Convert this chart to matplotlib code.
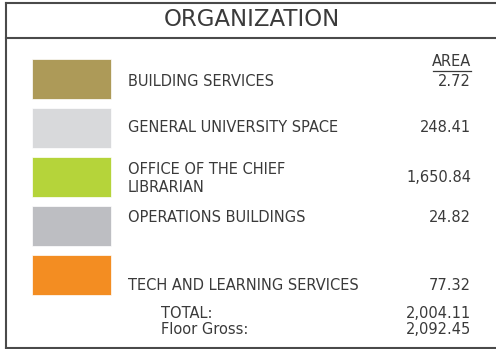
import matplotlib.pyplot as plt

# legend data
categories = ['BUILDING SERVICES', 'GENERAL UNIVERSITY SPACE',
              'OFFICE OF THE CHIEF\nLIBRARIAN', 'OPERATIONS BUILDINGS',
              'TECH AND LEARNING SERVICES']
areas = ['2.72', '248.41', '1,650.84', '24.82', '77.32']
colors = ['#AD9A58', '#D8D9DB', '#B5D43A', '#BDBEC2', '#F38D22']
total_labels = ['TOTAL:', 'Floor Gross:']
total_values = ['2,004.11', '2,092.45']

plt.rcParams['font.family'] = ['DejaVu Sans']
txt = '#3a3a3a'
edge = '#4a4a4a'
fs = 10.5

fig = plt.figure(figsize=(4.96, 3.49), dpi=100)
ax = fig.add_axes([0, 0, 1, 1])
ax.set_xlim(0, 496)
ax.set_ylim(349, 0)
ax.axis('off')

# frame
ax.plot([6, 6], [3, 348], color=edge, lw=1.5)
ax.plot([6, 496], [3, 3], color=edge, lw=1.5)
ax.plot([6, 496], [37.5, 37.5], color=edge, lw=1.5)
ax.plot([6, 496], [348, 348], color=edge, lw=1.5)

ax.text(252, 20, 'ORGANIZATION', ha='center', va='center', fontsize=16.5, color=txt)

# swatches
rows = [79, 128, 177, 226, 275]
text_rows = [81, 128, 178, 217, 285]
ax.barh(rows, 79, left=32, height=40, color=colors, edgecolor='white', linewidth=0.5)

for y, name, val in zip(text_rows, categories, areas):
    ax.text(128, y, name, ha='left', va='center', fontsize=fs, color=txt, linespacing=1.25)
    ax.text(471, y, val, ha='right', va='center', fontsize=fs, color=txt)

ax.text(471, 61, 'AREA', ha='right', va='center', fontsize=fs, color=txt)
ax.plot([433, 471], [71, 71], color=txt, lw=0.9)

for y, lab, val in zip([313, 329], total_labels, total_values):
    ax.text(161, y, lab, ha='left', va='center', fontsize=fs, color=txt)
    ax.text(471, y, val, ha='right', va='center', fontsize=fs, color=txt)

fig.savefig('out.png', dpi=100)
